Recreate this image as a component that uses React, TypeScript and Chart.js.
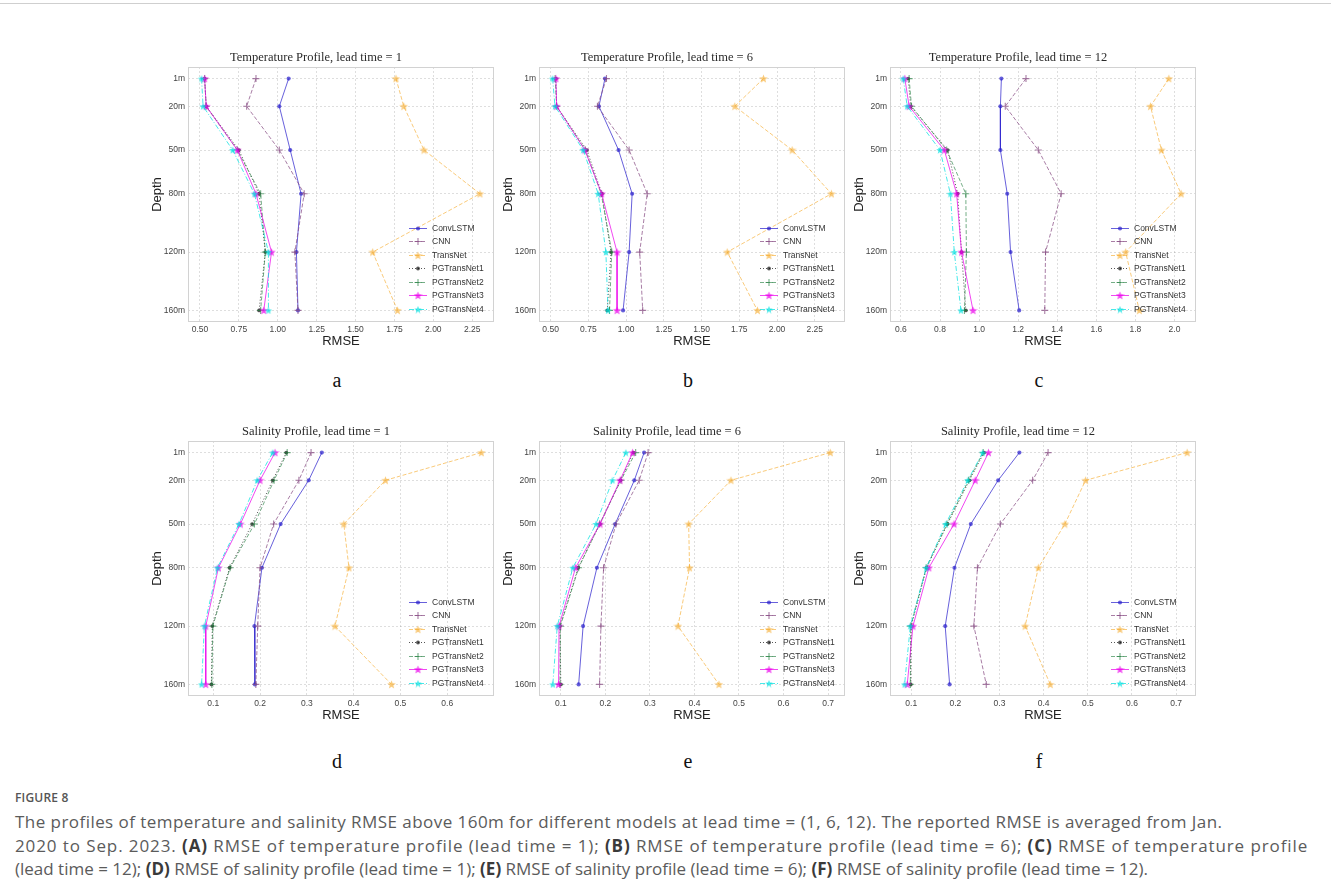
import React, { useEffect, useRef } from "react";
import { Chart, registerables } from "chart.js";

Chart.register(...registerables);
Chart.defaults.font.family = "'Liberation Sans', Arial, sans-serif";

// ---------------- data ----------------
const DEPTHS = [1, 20, 50, 80, 120, 160];
const DEPTH_LABELS = ["1m", "20m", "50m", "80m", "120m", "160m"];
const MODEL_NAMES = ["ConvLSTM", "CNN", "TransNet", "PGTransNet1", "PGTransNet2", "PGTransNet3", "PGTransNet4"];

// (a) Temperature, lead time = 1
const A_CONVLSTM = [1.07, 1.01, 1.08, 1.15, 1.12, 1.13];
const A_CNN = [0.86, 0.8, 1.01, 1.17, 1.11, 1.13];
const A_TRANSNET = [1.76, 1.81, 1.94, 2.3, 1.61, 1.77];
const A_PG1 = [0.53, 0.54, 0.75, 0.88, 0.92, 0.88];
const A_PG2 = [0.53, 0.54, 0.74, 0.89, 0.92, 0.89];
const A_PG3 = [0.53, 0.54, 0.74, 0.86, 0.96, 0.91];
const A_PG4 = [0.51, 0.52, 0.71, 0.85, 0.94, 0.94];

// (b) Temperature, lead time = 6
const B_CONVLSTM = [0.86, 0.82, 0.95, 1.04, 1.02, 0.98];
const B_CNN = [0.87, 0.81, 1.02, 1.14, 1.09, 1.11];
const B_TRANSNET = [1.91, 1.72, 2.1, 2.36, 1.67, 1.87];
const B_PG1 = [0.535, 0.54, 0.74, 0.84, 0.9, 0.875];
const B_PG2 = [0.53, 0.54, 0.73, 0.835, 0.905, 0.89];
const B_PG3 = [0.535, 0.54, 0.727, 0.838, 0.94, 0.94];
const B_PG4 = [0.513, 0.529, 0.716, 0.815, 0.866, 0.88];

// (c) Temperature, lead time = 12
const C_CONVLSTM = [1.114, 1.109, 1.109, 1.144, 1.161, 1.205];
const C_CNN = [1.24, 1.134, 1.303, 1.42, 1.34, 1.336];
const C_TRANSNET = [1.971, 1.877, 1.933, 2.034, 1.75, 1.82];
const C_PG1 = [0.637, 0.65, 0.839, 0.89, 0.91, 0.932];
const C_PG2 = [0.642, 0.654, 0.834, 0.932, 0.935, 0.925];
const C_PG3 = [0.62, 0.642, 0.822, 0.885, 0.91, 0.969];
const C_PG4 = [0.612, 0.632, 0.8, 0.853, 0.873, 0.907];

// (d) Salinity, lead time = 1
const D_CONVLSTM = [0.332, 0.304, 0.244, 0.204, 0.188, 0.189];
const D_CNN = [0.309, 0.283, 0.229, 0.2, 0.195, 0.191];
const D_TRANSNET = [0.673, 0.468, 0.379, 0.39, 0.36, 0.481];
const D_PG1 = [0.256, 0.227, 0.183, 0.135, 0.098, 0.096];
const D_PG2 = [0.258, 0.23, 0.188, 0.136, 0.099, 0.097];
const D_PG3 = [0.232, 0.2, 0.158, 0.111, 0.084, 0.084];
const D_PG4 = [0.227, 0.194, 0.155, 0.109, 0.081, 0.075];

// (e) Salinity, lead time = 6
const E_CONVLSTM = [0.287, 0.265, 0.222, 0.181, 0.15, 0.14];
const E_CNN = [0.296, 0.276, 0.224, 0.196, 0.19, 0.187];
const E_TRANSNET = [0.705, 0.482, 0.387, 0.389, 0.363, 0.455];
const E_PG1 = [0.263, 0.234, 0.188, 0.139, 0.098, 0.1];
const E_PG2 = [0.268, 0.235, 0.187, 0.14, 0.099, 0.098];
const E_PG3 = [0.261, 0.233, 0.188, 0.133, 0.096, 0.095];
const E_PG4 = [0.246, 0.216, 0.179, 0.127, 0.092, 0.082];

// (f) Salinity, lead time = 12
const F_CONVLSTM = [0.345, 0.297, 0.235, 0.198, 0.177, 0.187];
const F_CNN = [0.41, 0.375, 0.302, 0.25, 0.242, 0.27];
const F_TRANSNET = [0.725, 0.495, 0.448, 0.388, 0.358, 0.415];
const F_PG1 = [0.265, 0.232, 0.182, 0.135, 0.1, 0.099];
const F_PG2 = [0.263, 0.23, 0.181, 0.134, 0.099, 0.098];
const F_PG3 = [0.275, 0.245, 0.197, 0.14, 0.104, 0.091];
const F_PG4 = [0.262, 0.228, 0.178, 0.134, 0.098, 0.085];

// tick values and labels
const TICKS_TEMP_AB = [0.5, 0.75, 1.0, 1.25, 1.5, 1.75, 2.0, 2.25];
const TICK_LABELS_TEMP_AB = ["0.50", "0.75", "1.00", "1.25", "1.50", "1.75", "2.00", "2.25"];
const TICKS_TEMP_C = [0.6, 0.8, 1.0, 1.2, 1.4, 1.6, 1.8, 2.0];
const TICK_LABELS_TEMP_C = ["0.6", "0.8", "1.0", "1.2", "1.4", "1.6", "1.8", "2.0"];
const TICKS_SAL_D = [0.1, 0.2, 0.3, 0.4, 0.5, 0.6];
const TICK_LABELS_SAL_D = ["0.1", "0.2", "0.3", "0.4", "0.5", "0.6"];
const TICKS_SAL_EF = [0.1, 0.2, 0.3, 0.4, 0.5, 0.6, 0.7];
const TICK_LABELS_SAL_EF = ["0.1", "0.2", "0.3", "0.4", "0.5", "0.6", "0.7"];

// ---------------- styles ----------------
const MODEL_COLORS = [
  "rgba(45,35,205,0.72)",
  "rgba(135,75,130,0.72)",
  "rgba(245,170,40,0.62)",
  "rgba(20,20,20,0.72)",
  "rgba(30,125,60,0.62)",
  "rgba(235,0,235,0.72)",
  "rgba(0,225,225,0.72)",
];
const MODEL_DASHES = [[], [4, 2], [4, 2], [1, 2], [4, 2], [], [5, 2, 1, 2]];
const MODEL_MARKERS = ["circle", "cross", "star", "circle", "cross", "star", "star"];
const MODEL_MARKER_SIZE = [2.1, 3.5, 9, 1.9, 3.5, 9, 8];

const PLOT_W = 306;
const PLOT_H = 255;
const AXIS_Y_W = 50;
const TITLE_H = 24;
const AXIS_X_H = 32;
const PAD_R = 6;

function makeStar(color: string, size: number): HTMLCanvasElement {
  const c = document.createElement("canvas");
  c.width = size;
  c.height = size;
  const ctx = c.getContext("2d")!;
  const cx = size / 2;
  const cy = size / 2 + 0.4;
  const R = size / 2;
  const r = R * 0.42;
  ctx.beginPath();
  for (let i = 0; i < 10; i++) {
    const ang = -Math.PI / 2 + (i * Math.PI) / 5;
    const rad = i % 2 === 0 ? R : r;
    const px = cx + rad * Math.cos(ang);
    const py = cy + rad * Math.sin(ang);
    if (i === 0) ctx.moveTo(px, py);
    else ctx.lineTo(px, py);
  }
  ctx.closePath();
  ctx.fillStyle = color;
  ctx.fill();
  return c;
}

function drawMarker(ctx: CanvasRenderingContext2D, idx: number, x: number, y: number, star: any) {
  const kind = MODEL_MARKERS[idx];
  const color = MODEL_COLORS[idx];
  const s = MODEL_MARKER_SIZE[idx];
  ctx.save();
  ctx.setLineDash([]);
  if (kind === "circle") {
    ctx.fillStyle = color;
    ctx.beginPath();
    ctx.arc(x, y, s, 0, Math.PI * 2);
    ctx.fill();
  } else if (kind === "cross") {
    ctx.strokeStyle = color;
    ctx.lineWidth = 1.1;
    ctx.beginPath();
    ctx.moveTo(x - s, y);
    ctx.lineTo(x + s, y);
    ctx.moveTo(x, y - s);
    ctx.lineTo(x, y + s);
    ctx.stroke();
  } else if (star) {
    ctx.drawImage(star, x - star.width / 2, y - star.height / 2);
  }
  ctx.restore();
}

const framePlugin = {
  id: "frameBox",
  beforeDatasetsDraw(chart: any) {
    const { ctx, chartArea: a } = chart;
    ctx.save();
    ctx.strokeStyle = "#d2d2d2";
    ctx.lineWidth = 1;
    ctx.strokeRect(Math.round(a.left) + 0.5, Math.round(a.top) + 0.5, Math.round(a.width) - 1, Math.round(a.height) - 1);
    ctx.restore();
  },
};

const innerLegendPlugin = {
  id: "innerLegend",
  afterDatasetsDraw(chart: any) {
    const { ctx, chartArea } = chart;
    const sets = chart.data.datasets;
    const n = sets.length;
    sets.forEach((ds: any, i: number) => {
      const y = Math.round(chartArea.bottom - 13.5 * (n - i)) + 0.5;
      const x0 = chartArea.right - 85;
      const x1 = chartArea.right - 67;
      ctx.save();
      ctx.strokeStyle = MODEL_COLORS[i];
      ctx.lineWidth = 1;
      ctx.setLineDash(MODEL_DASHES[i]);
      ctx.beginPath();
      ctx.moveTo(x0, y);
      ctx.lineTo(x1, y);
      ctx.stroke();
      ctx.restore();
      drawMarker(ctx, i, (x0 + x1) / 2, y, ds._starImg);
      ctx.save();
      ctx.fillStyle = "#333";
      ctx.font = "8.5px 'Liberation Sans', Arial, sans-serif";
      ctx.textBaseline = "middle";
      ctx.textAlign = "left";
      ctx.fillText(ds.label, chartArea.right - 62, y);
      ctx.restore();
    });
  },
};

type PanelProps = {
  title: string;
  series: number[][];
  ticks: number[];
  tickLabels: string[];
  xMin: number;
  xMax: number;
  plotLeft: number;
  plotTop: number;
};

function Panel(p: PanelProps) {
  const ref = useRef<HTMLCanvasElement>(null);
  useEffect(() => {
    if (!ref.current) return;
    const datasets = p.series.map((vals, i) => {
      const star = MODEL_MARKERS[i] === "star" ? makeStar(MODEL_COLORS[i], MODEL_MARKER_SIZE[i]) : null;
      const ds: any = {
        label: MODEL_NAMES[i],
        data: vals.map((v, k) => ({ x: v, y: DEPTHS[k] })),
        showLine: true,
        borderColor: MODEL_COLORS[i],
        backgroundColor: MODEL_COLORS[i],
        borderWidth: 1,
        borderDash: MODEL_DASHES[i],
        pointStyle: star ? star : MODEL_MARKERS[i] === "cross" ? "cross" : "circle",
        pointRadius: MODEL_MARKERS[i] === "star" ? 4 : MODEL_MARKER_SIZE[i],
        pointBorderWidth: MODEL_MARKERS[i] === "cross" ? 1.1 : 0,
        pointBorderColor: MODEL_COLORS[i],
        pointBackgroundColor: MODEL_COLORS[i],
        tension: 0,
        fill: false,
        order: -i,
      };
      ds._starImg = star;
      return ds;
    });
    const chart = new Chart(ref.current, {
      type: "scatter",
      data: { datasets },
      options: {
        responsive: false,
        animation: false,
        events: [],
        layout: { padding: { left: 0, right: PAD_R, top: 0, bottom: 0 } },
        plugins: {
          legend: { display: false },
          tooltip: { enabled: false },
          title: {
            display: true,
            text: p.title,
            color: "#2a2a2a",
            font: { family: "'Liberation Serif', 'Times New Roman', serif", size: 12.5, weight: "normal", lineHeight: 1.2 },
            padding: { top: 7.5, bottom: 1.5 },
          },
        },
        scales: {
          x: {
            type: "linear",
            position: "bottom",
            min: p.xMin,
            max: p.xMax,
            afterBuildTicks: (scale: any) => {
              scale.ticks = p.ticks.map((v) => ({ value: v }));
            },
            afterFit: (scale: any) => {
              scale.height = AXIS_X_H;
            },
            ticks: {
              callback: (_v: any, idx: number) => p.tickLabels[idx],
              color: "#444",
              font: { size: 8.5 },
              padding: 3,
              maxRotation: 0,
              autoSkip: false,
            },
            grid: { color: "rgba(0,0,0,0.13)", lineWidth: 1, drawTicks: false },
            border: { display: false, dash: [2, 2] },
            title: {
              display: true,
              text: "RMSE",
              color: "#222",
              font: { size: 13 },
              padding: { top: 0, bottom: 5.2 },
            },
          },
          y: {
            type: "linear",
            reverse: true,
            min: -6.95,
            max: 167.95,
            afterBuildTicks: (scale: any) => {
              scale.ticks = DEPTHS.map((v) => ({ value: v }));
            },
            afterFit: (scale: any) => {
              scale.width = AXIS_Y_W;
            },
            ticks: {
              callback: (_v: any, idx: number) => DEPTH_LABELS[idx],
              color: "#444",
              font: { size: 8.5 },
              padding: 3,
              autoSkip: false,
            },
            grid: { color: "rgba(0,0,0,0.13)", lineWidth: 1, drawTicks: false },
            border: { display: false, dash: [2, 2] },
            title: {
              display: true,
              text: "Depth",
              color: "#222",
              font: { size: 13 },
              padding: { top: 11.2, bottom: 0 },
            },
          },
        },
      } as any,
      plugins: [framePlugin, innerLegendPlugin],
    });
    return () => chart.destroy();
  }, []);
  const w = AXIS_Y_W + PLOT_W + PAD_R;
  const h = TITLE_H + PLOT_H + AXIS_X_H;
  return (
    <canvas
      ref={ref}
      width={w}
      height={h}
      style={{ position: "absolute", left: p.plotLeft - AXIS_Y_W, top: p.plotTop - TITLE_H, width: w, height: h }}
    />
  );
}

const COL_LEFTS = [188, 539, 890];
const ROW_TOPS = [67, 441];

function Letter({ ch, col, row }: { ch: string; col: number; row: number }) {
  const cx = COL_LEFTS[col] + PLOT_W / 2 - 4;
  const baseline = row === 0 ? 386 : 767;
  return (
    <div
      style={{
        position: "absolute",
        left: cx - 20,
        width: 40,
        top: baseline - 18,
        height: 24,
        lineHeight: "24px",
        textAlign: "center",
        fontFamily: "'Liberation Serif', 'Times New Roman', serif",
        fontSize: 20,
        color: "#111",
      }}
    >
      {ch}
    </div>
  );
}

export default function App() {
  const capStyle: React.CSSProperties = {
    position: "absolute",
    left: 15,
    whiteSpace: "nowrap",
    fontFamily: "'Open Sans', 'Noto Sans', sans-serif",
    fontSize: 17,
    lineHeight: "20px",
    color: "#5b5b5b",
  };
  const b: React.CSSProperties = { fontWeight: 700, color: "#3a3a3a" };
  return (
    <div style={{ position: "absolute", left: 0, top: 0, width: 1331, height: 894, background: "#fff", overflow: "hidden" }}>
      <div style={{ position: "absolute", left: 0, top: 3, width: 1331, height: 1, background: "#cfcfcf" }} />
      <Panel title="Temperature Profile, lead time = 1" series={[A_CONVLSTM, A_CNN, A_TRANSNET, A_PG1, A_PG2, A_PG3, A_PG4]} ticks={TICKS_TEMP_AB} tickLabels={TICK_LABELS_TEMP_AB} xMin={0.423} xMax={2.39} plotLeft={COL_LEFTS[0]} plotTop={ROW_TOPS[0]} />
      <Panel title="Temperature Profile, lead time = 6" series={[B_CONVLSTM, B_CNN, B_TRANSNET, B_PG1, B_PG2, B_PG3, B_PG4]} ticks={TICKS_TEMP_AB} tickLabels={TICK_LABELS_TEMP_AB} xMin={0.423} xMax={2.45} plotLeft={COL_LEFTS[1]} plotTop={ROW_TOPS[0]} />
      <Panel title="Temperature Profile, lead time = 12" series={[C_CONVLSTM, C_CNN, C_TRANSNET, C_PG1, C_PG2, C_PG3, C_PG4]} ticks={TICKS_TEMP_C} tickLabels={TICK_LABELS_TEMP_C} xMin={0.544} xMax={2.11} plotLeft={COL_LEFTS[2]} plotTop={ROW_TOPS[0]} />
      <Panel title="Salinity Profile, lead time = 1" series={[D_CONVLSTM, D_CNN, D_TRANSNET, D_PG1, D_PG2, D_PG3, D_PG4]} ticks={TICKS_SAL_D} tickLabels={TICK_LABELS_SAL_D} xMin={0.046} xMax={0.7} plotLeft={COL_LEFTS[0]} plotTop={ROW_TOPS[1]} />
      <Panel title="Salinity Profile, lead time = 6" series={[E_CONVLSTM, E_CNN, E_TRANSNET, E_PG1, E_PG2, E_PG3, E_PG4]} ticks={TICKS_SAL_EF} tickLabels={TICK_LABELS_SAL_EF} xMin={0.051} xMax={0.738} plotLeft={COL_LEFTS[1]} plotTop={ROW_TOPS[1]} />
      <Panel title="Salinity Profile, lead time = 12" series={[F_CONVLSTM, F_CNN, F_TRANSNET, F_PG1, F_PG2, F_PG3, F_PG4]} ticks={TICKS_SAL_EF} tickLabels={TICK_LABELS_SAL_EF} xMin={0.052} xMax={0.745} plotLeft={COL_LEFTS[2]} plotTop={ROW_TOPS[1]} />
      <Letter ch="a" col={0} row={0} />
      <Letter ch="b" col={1} row={0} />
      <Letter ch="c" col={2} row={0} />
      <Letter ch="d" col={0} row={1} />
      <Letter ch="e" col={1} row={1} />
      <Letter ch="f" col={2} row={1} />
      <div style={{ ...capStyle, top: 788, fontSize: 12, fontWeight: 600, color: "#555", letterSpacing: 0.2 }}>FIGURE 8</div>
      <div style={{ ...capStyle, top: 812, letterSpacing: 0.45 }}>
        The profiles of temperature and salinity RMSE above 160m for different models at lead time = (1, 6, 12). The reported RMSE is averaged from Jan.
      </div>
      <div style={{ ...capStyle, top: 836, letterSpacing: 0.9 }}>
        2020 to Sep. 2023. <span style={b}>(A)</span> RMSE of temperature profile (lead time = 1); <span style={b}>(B)</span> RMSE of temperature profile (lead time = 6); <span style={b}>(C)</span> RMSE of temperature profile
      </div>
      <div style={{ ...capStyle, top: 859, letterSpacing: 0 }}>
        (lead time = 12); <span style={b}>(D)</span> RMSE of salinity profile (lead time = 1); <span style={b}>(E)</span> RMSE of salinity profile (lead time = 6); <span style={b}>(F)</span> RMSE of salinity profile (lead time = 12).
      </div>
    </div>
  );
}
